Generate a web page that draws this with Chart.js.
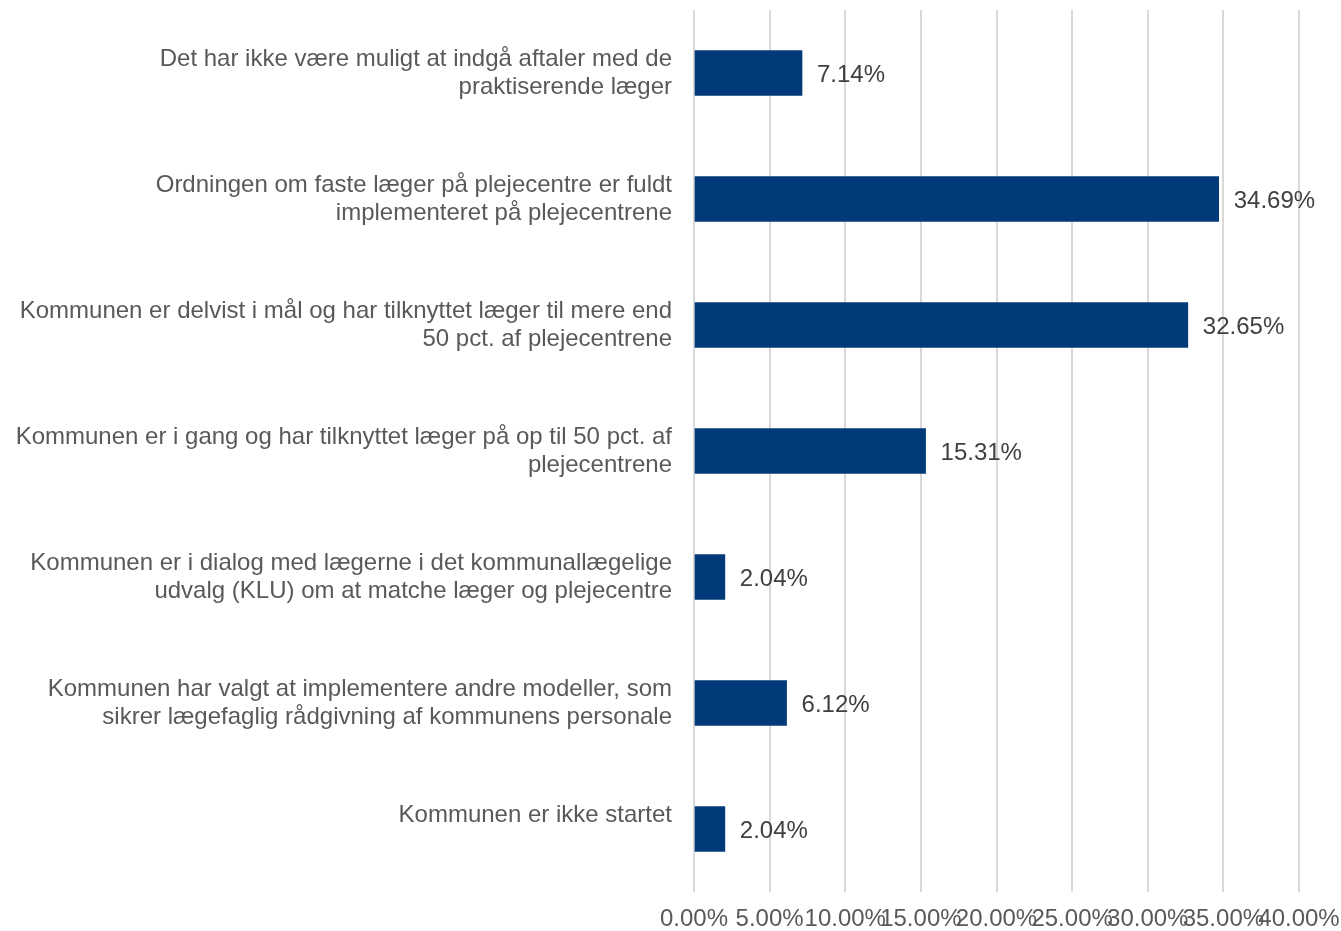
<!DOCTYPE html>
<html>
<head>
<meta charset="utf-8">
<script src="https://cdn.jsdelivr.net/npm/chart.js@4"></script>
<style>
  html, body { margin: 0; padding: 0; background: #fff; }
  #wrap { width: 1341px; height: 931px; }
</style>
</head>
<body>
<div id="wrap"><canvas id="chart"></canvas></div>
<script>
// kategorier (linjeskift som i originalen)
const categories = [
  ['Det har ikke være muligt at indgå aftaler med de', 'praktiserende læger'],
  ['Ordningen om faste læger på plejecentre er fuldt', 'implementeret på plejecentrene'],
  ['Kommunen er delvist i mål og har tilknyttet læger til mere end', '50 pct. af plejecentrene'],
  ['Kommunen er i gang og har tilknyttet læger på op til 50 pct. af', 'plejecentrene'],
  ['Kommunen er i dialog med lægerne i det kommunallægelige', 'udvalg (KLU) om at matche læger og plejecentre'],
  ['Kommunen har valgt at implementere andre modeller, som', 'sikrer lægefaglig rådgivning af kommunens personale'],
  ['Kommunen er ikke startet', '']
];
const values = [7.14, 34.69, 32.65, 15.31, 2.04, 6.12, 2.04];
const tickValues = [0, 5, 10, 15, 20, 25, 30, 35, 40];

const axisColor = '#595959';
const valueColor = '#404040';
const barColor = '#003A78';
const fontFamily = '"Liberation Sans", Arial, sans-serif';

// værdier ved enden af søjlerne
const valueLabels = {
  id: 'valueLabels',
  afterDatasetsDraw(chart) {
    const ctx = chart.ctx;
    const meta = chart.getDatasetMeta(0);
    ctx.save();
    ctx.font = '24px ' + fontFamily;
    ctx.fillStyle = valueColor;
    ctx.textAlign = 'left';
    ctx.textBaseline = 'middle';
    meta.data.forEach((bar, i) => {
      ctx.fillText(values[i].toFixed(2) + '%', bar.x + 15, bar.y + 2);
    });
    ctx.restore();
  }
};

const ctx = document.getElementById('chart').getContext('2d');
new Chart(ctx, {
  type: 'bar',
  data: {
    labels: categories,
    datasets: [{
      data: values,
      backgroundColor: barColor,
      borderWidth: 0,
      barThickness: 45
    }]
  },
  options: {
    indexAxis: 'y',
    responsive: true,
    maintainAspectRatio: false,
    animation: false,
    layout: { padding: { top: 10, right: 42, bottom: 0, left: 0 } },
    plugins: {
      legend: { display: false },
      tooltip: { enabled: false }
    },
    scales: {
      x: {
        min: 0,
        max: 40,
        afterBuildTicks(scale) {
          scale.ticks = tickValues.map(v => ({ value: v }));
        },
        afterFit(scale) {
          scale.height = 39;
          scale.paddingLeft = 0;
          scale.paddingRight = 0;
        },
        border: { display: false },
        grid: { color: '#d9d9d9', lineWidth: 2, drawTicks: false },
        ticks: {
          autoSkip: false,
          maxRotation: 0,
          minRotation: 0,
          padding: 13,
          color: axisColor,
          font: { size: 24, family: fontFamily, lineHeight: 1.2 },
          callback: v => v.toFixed(2) + '%'
        }
      },
      y: {
        border: { display: false },
        grid: { display: false, drawTicks: false },
        afterFit(scale) {
          scale.width = 694;
          scale.paddingTop = 0;
          scale.paddingBottom = 0;
        },
        ticks: {
          padding: 22,
          color: axisColor,
          font: { size: 24, family: fontFamily, lineHeight: 1.17 }
        }
      }
    }
  },
  plugins: [valueLabels]
});
</script>
</body>
</html>
